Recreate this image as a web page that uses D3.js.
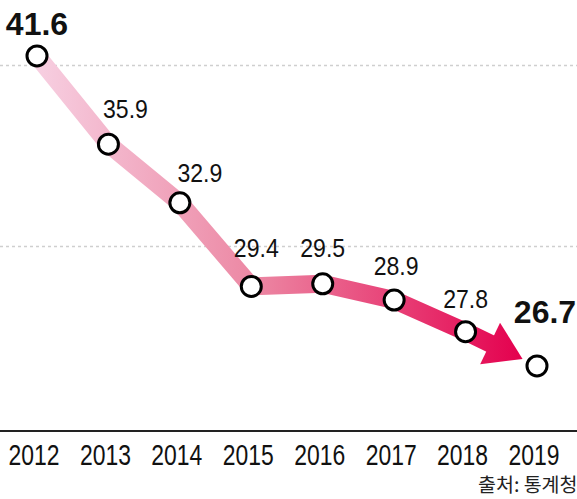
<!DOCTYPE html>
<html>
<head>
<meta charset="utf-8">
<script src="https://cdn.jsdelivr.net/npm/d3@7"></script>
<style>
  body { margin: 0; background: #fff; }
  svg { display: block; }
</style>
</head>
<body>
<div id="chart"></div>
<script>
const years = ["2012", "2013", "2014", "2015", "2016", "2017", "2018", "2019"];
const values = [41.6, 35.9, 32.9, 29.4, 29.5, 28.9, 27.8, 26.7];
const gridValues = [40.9, 31];
const sourceText = "출처: 통계청";

// hand-placed label nudges (layout only)
const labelDx = [0, 17, 20, 5, 0, 2, 0, 8];
const labelDy = [-21, -26, -21, -29, -27, -25, -24, -43];

// squeeze text horizontally, the original uses a condensed face
function condense(sel, factor) {
  sel.each(function() {
    const w = this.getComputedTextLength();
    d3.select(this)
      .attr("textLength", w * factor)
      .attr("lengthAdjust", "spacingAndGlyphs");
  });
}

function drawChart() {
  const container = d3.select("#chart");
  container.selectAll("*").remove();

  const width = 577;
  const height = 499;
  const axisY = 431;

  const svg = container.append("svg")
    .attr("width", width)
    .attr("height", height);

  const x = d3.scalePoint()
    .domain(years)
    .range([37, 537]);

  // the drawing is squeezed at the top, 1/v fits it well
  const y = d3.scalePow()
    .exponent(-1)
    .domain([46.26, 24.86])
    .range([0, 430]);

  const defs = svg.append("defs");
  const grad = defs.append("linearGradient")
    .attr("id", "lineGrad")
    .attr("gradientUnits", "userSpaceOnUse")
    .attr("x1", x(years[0])).attr("y1", 0)
    .attr("x2", x(years[years.length - 1]) - 15).attr("y2", 0);
  grad.append("stop").attr("offset", "0%").attr("stop-color", "#f7cfe1");
  grad.append("stop").attr("offset", "45%").attr("stop-color", "#ec87a3");
  grad.append("stop").attr("offset", "100%").attr("stop-color", "#e4004e");

  // dashed gridlines
  svg.append("g")
    .selectAll("line")
    .data(gridValues)
    .join("line")
    .attr("x1", 0)
    .attr("x2", width)
    .attr("y1", d => Math.round(y(d)) + 0.5)
    .attr("y2", d => Math.round(y(d)) + 0.5)
    .attr("stroke", "#cfcfcf")
    .attr("stroke-width", 1.5)
    .attr("stroke-dasharray", "3,3");

  // x axis line
  svg.append("line")
    .attr("x1", 0).attr("x2", width)
    .attr("y1", axisY).attr("y2", axisY)
    .attr("stroke", "#222")
    .attr("stroke-width", 2);

  const pts = years.map((yr, i) => [x(yr), y(values[i])]);

  // arrow on the last segment
  const n = pts.length;
  const last = pts[n - 1];
  const prev = pts[n - 2];
  const len = Math.hypot(last[0] - prev[0], last[1] - prev[1]);
  const ux = (last[0] - prev[0]) / len;
  const uy = (last[1] - prev[1]) / len;
  const tip = [last[0] - 16 * ux, last[1] - 16 * uy];
  const base = [tip[0] - 36 * ux, tip[1] - 36 * uy];
  const half = 23;
  const c1 = [base[0] - uy * half, base[1] + ux * half];
  const c2 = [base[0] + uy * half, base[1] - ux * half];

  const line = d3.line();
  const linePts = pts.slice(0, n - 1).concat([[base[0] + 2 * ux, base[1] + 2 * uy]]);

  svg.append("path")
    .attr("d", line(linePts))
    .attr("fill", "none")
    .attr("stroke", "url(#lineGrad)")
    .attr("stroke-width", 18)
    .attr("stroke-linejoin", "round");

  svg.append("path")
    .attr("d", "M" + [c1, tip, c2].join("L") + "Z")
    .attr("fill", "url(#lineGrad)");

  // markers
  svg.append("g")
    .selectAll("circle")
    .data(pts)
    .join("circle")
    .attr("cx", d => d[0])
    .attr("cy", d => d[1])
    .attr("r", 10)
    .attr("fill", "#fff")
    .attr("stroke", "#000")
    .attr("stroke-width", 3);

  // value labels
  const isBig = i => i === 0 || i === n - 1;
  const valLabels = svg.append("g")
    .selectAll("text")
    .data(values)
    .join("text")
    .attr("x", (d, i) => pts[i][0] + labelDx[i])
    .attr("y", (d, i) => pts[i][1] + labelDy[i])
    .attr("text-anchor", "middle")
    .attr("font-family", "'Liberation Sans', Arial, sans-serif")
    .attr("font-weight", (d, i) => isBig(i) ? "bold" : "normal")
    .attr("font-size", (d, i) => isBig(i) ? 32 : 26.5)
    .attr("fill", "#111")
    .text(d => d.toFixed(1));
  condense(valLabels.filter((d, i) => !isBig(i)), 0.87);

  // year labels
  const yearLabels = svg.append("g")
    .selectAll("text")
    .data(years)
    .join("text")
    .attr("x", d => x(d) - 3)
    .attr("y", 465)
    .attr("text-anchor", "middle")
    .attr("font-family", "'Liberation Sans', Arial, sans-serif")
    .attr("font-size", 29)
    .attr("fill", "#111")
    .text(d => d);
  condense(yearLabels, 0.79);

  // source
  svg.append("text")
    .attr("x", 478)
    .attr("y", 492)
    .attr("font-family", "'Noto Sans CJK KR', sans-serif")
    .attr("font-size", 19.5)
    .attr("fill", "#222")
    .text(sourceText);
}

drawChart();
</script>
</body>
</html>
